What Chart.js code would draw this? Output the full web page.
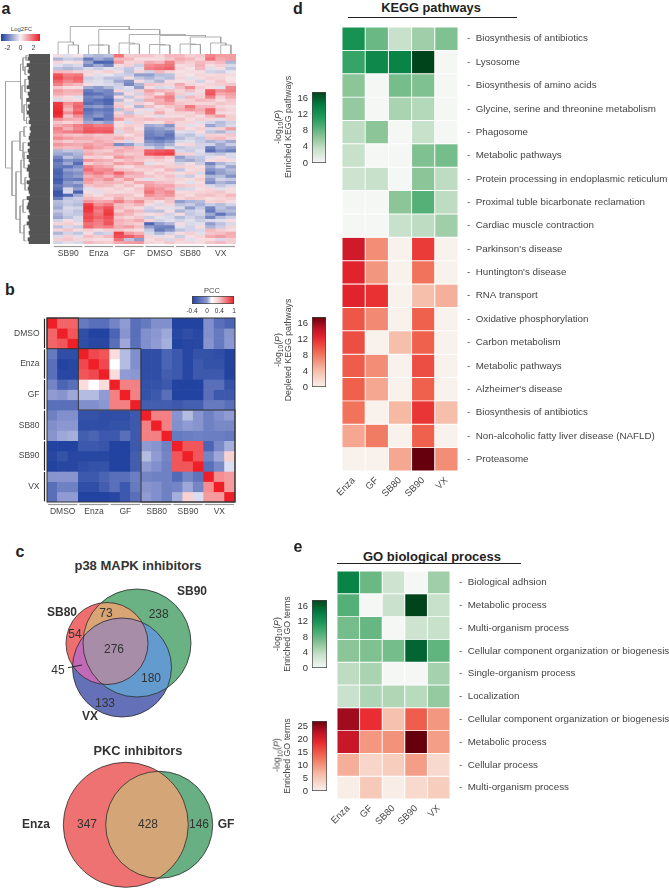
<!DOCTYPE html>
<html>
<head>
<meta charset="utf-8">
<title>Kinase inhibitor expression figure</title>
<script src="https://cdn.jsdelivr.net/npm/chart.js@4"></script>
<style>
  html, body { margin: 0; padding: 0; background: #fff; }
  #fig { position: relative; width: 669px; height: 889px; overflow: hidden; font-family: "Liberation Sans", Arial, sans-serif; color: #333; }
  #fig canvas { position: absolute; }
  .lbl { position: absolute; white-space: nowrap; transform: translate(-50%, -50%); line-height: 1; }
  .rot { transform: translate(-50%, -50%) rotate(-90deg); }
  .rule { position: absolute; background: #222; height: 1px; }
  sub { font-size: 75%; line-height: 0; }
</style>
</head>
<body>
<div id="fig"></div>
<script>
  // sample names
  const groupsA = ["SB90", "Enza", "GF", "DMSO", "SB80", "VX"];
  const groupsB = ["DMSO", "Enza", "GF", "SB80", "SB90", "VX"];
  const samples = ["Enza", "GF", "SB80", "SB90", "VX"];

  // panel a: log2FC, 60 binned rows, three replicates per group
  const log2fc = [
    [.3,-.3,.2,-.8,-1,-.8,1.8,.5,.6,.6,.4,.8,.8,.5,.6,1.5,1.2,1.2],
    [-1,-.6,-.8,-2,-1.2,-1.6,.8,.8,.3,.3,.3,.6,1,.8,.4,1.8,1,1.2],
    [.4,.2,.3,-1.3,-2.4,-2.3,1.2,.4,.5,1,.8,1.6,.7,.5,.8,.6,.8,-1],
    [-.3,-.6,-.4,-1.8,-1.2,-1.8,.3,.5,-.6,1.4,1.6,1.8,.3,.4,.9,.3,.5,-.4],
    [-.8,-1,-.8,-.4,-.6,-.3,-.4,-.7,-.3,1.6,1.8,2,.4,.2,.8,-.3,.3,-.7],
    [.8,.7,.5,.4,.3,.5,.3,-.8,.4,-.5,.8,.4,.2,.3,.3,-.5,-.6,-.2],
    [2.2,1.6,1.7,.3,-.3,-.2,-.5,-.6,-1.4,-1.4,-.9,-.8,.3,.2,.4,.3,.4,.3],
    [2.4,1.8,2,-.6,-.4,-.8,-.8,.3,-.7,-1,-.6,-.9,.4,-.3,.3,.5,.4,.2],
    [2,1.5,1.8,-.4,-.3,-.5,-1.2,-1.6,.3,-.5,-1,.3,.2,.3,-.5,.3,.6,.2],
    [1.6,1,.8,.3,-.3,-.4,-.6,-1.8,-1,.6,.5,.4,1,.4,.3,.4,.5,.6],
    [.6,.3,.3,-1.2,-1.5,-1,-.5,-.3,-1.4,.3,-.4,-.3,.7,1.4,.5,.3,-.3,1.5],
    [1.2,.9,1,-2,-1.6,-1.8,.4,-.4,.5,1.2,.9,.7,.4,.7,.3,2.1,1.4,1.6],
    [1,.8,.8,-2.2,-2.1,-1.8,-1.2,.3,-.5,.8,.3,1.2,.5,-.3,.4,2.2,1,1.2],
    [.5,.3,-.3,-1.8,-1.6,-2,.3,-.7,.4,.6,1.3,1.6,-.5,.8,.5,1.6,.5,1],
    [-.4,.4,.3,-2,-2.2,-2.4,-.9,.3,-.6,1,.9,1.5,.4,.5,.8,.7,.3,.6],
    [2.6,1.4,1.8,-2.2,-2,-2.3,.5,-.4,.5,.3,1,1.1,.6,.5,.4,.4,.6,.5],
    [2.7,1.1,2,-1.6,-1.4,-1.8,.6,.3,-1,.7,.3,.6,.8,1.7,.8,.8,.4,.3],
    [2.8,.8,1.8,-2.2,-2,-2.1,-.8,.6,.3,-.3,.5,.3,1,1.3,1,1.9,.6,.4],
    [2.9,1.4,2.2,-2,-1.7,-1.9,.4,-.7,-.3,.4,1,.4,.5,.4,.8,1.8,.3,.3],
    [2.7,.6,1.4,-1.8,-1.5,-2,.6,.8,.5,.3,-.3,.3,.3,.5,.3,.8,1.2,.5],
    [1.4,1,.9,-1.6,-2.4,-2,1.2,.5,.6,.8,.6,.6,.7,.3,.5,.4,-.3,.5],
    [.6,.4,.6,-1.2,-1,-1.4,.3,-.4,.5,.3,.3,.8,.4,.4,-.3,-.5,-.9,-.5],
    [1,1.2,1.6,1.9,1.6,1.7,.3,.5,.4,-1.2,-1,-1.6,.4,-.3,.3,-1.3,-.8,-.4],
    [1.6,.9,1.5,2.1,2,2,.5,.7,.3,-1.6,-1.4,-1.1,.6,.3,.5,-.4,.5,1.2],
    [1.4,1.6,1.8,2.2,2.1,2.2,-.4,.6,.5,-1.8,-1.6,-1.8,-.3,-.4,.3,-.7,-1,-.5],
    [1,.7,.6,.8,.6,.7,.5,.3,.6,-1.9,-1.7,-2.1,-.6,-.8,-.4,.5,.4,.6],
    [1.5,1.2,1,1,.8,.7,1,.6,.4,-2,-2.2,-2,-.9,-.5,-.7,.6,.8,.4],
    [.8,.5,.7,.7,1,.8,.5,-.4,.4,-1.6,-1.8,-1.5,-.4,-.3,-.6,-1,-.8,-1.2],
    [1.3,1.1,1,1.2,.9,1.1,-1.7,-1.4,-.6,-1.2,-1.4,-1,.3,.4,-.5,-.5,-1.2,-.6],
    [.9,.7,.8,1.4,1.1,.8,.7,1,.6,-.5,-1,-.4,-.7,-.5,-.5,-1.9,-1.2,-1.4],
    [-1,-.7,-.8,.8,.6,.5,1,.8,.7,2,2.1,2.3,-.4,-.6,-.3,-2.2,-1.6,-1.9],
    [-1.2,-1.4,-1,1,.7,.9,.8,.5,.6,2.2,2.4,2.5,.5,.4,-.4,-.6,-.8,-.4],
    [-1.8,-.8,-1.2,.4,.5,.3,1.3,1,.7,.7,.9,.5,-1.4,-.8,-.7,-.3,.3,-.4],
    [-2.2,-1.6,-1.8,1.3,1,.9,.5,.8,.6,.4,.5,.3,-1,-1.2,-.8,.3,.4,.3],
    [-1.9,-1.2,-2.2,.5,.8,.6,1.2,.9,1.1,-.3,.3,.4,-.5,.3,-.6,-1.8,-1,-.6],
    [-2,-2.1,-1.6,1.6,1.2,1,.4,.3,.6,.6,.7,.5,.5,.4,.3,-1.2,-.5,-1.3],
    [-2.3,-1.4,-1.2,1.9,1.4,1.5,.7,.6,.4,.5,.3,.8,-.7,.3,.4,-1.6,-1.3,-.9],
    [-2.4,-1.8,-1.6,1.4,1.7,1.3,2,1.1,.9,.3,.6,.4,.3,.5,-.4,-2,-1.4,-1.1],
    [-2.3,-1.7,-1.4,.9,1.2,.8,1.4,.7,.8,.6,.4,.7,-.4,-.6,.3,-1,-.9,-1.6],
    [-2.5,-1.9,-2,1.3,1,1.4,.6,1.2,.4,-.3,.4,.5,.4,.3,.5,-1.4,-.5,-.7],
    [-2.4,-1.5,-1.2,1.1,.7,.9,.8,.5,1,1,.7,.6,.3,-.3,.3,-1.7,-1,-1.3],
    [-2,-1.6,-1.8,.6,.8,.7,.4,.7,.3,1.2,1,1.1,.6,.5,.4,-.4,-.7,-.4],
    [-2.2,-.5,-1.4,-.3,.4,.3,.5,.3,.6,1.5,1.3,.9,-.5,-.4,.3,.4,-.3,.3],
    [-2.6,-.4,-2.4,.3,-.3,.4,.3,.4,.5,1.8,1.2,1.5,.3,.4,.4,.5,.6,.3],
    [-2.6,-2.3,-1.2,.5,.3,.6,.7,.6,.3,1.4,1.1,1.3,.5,.3,.6,.7,.5,.8],
    [-2,-.8,-.6,.8,.6,.4,1,.5,.7,.8,1,.7,.4,.6,.5,.3,.4,.5],
    [-.9,-.6,-.7,1.3,1,1.1,1.6,1,1.4,.5,.3,.6,-1.4,-1,-.9,.4,.5,.3],
    [-1,-.7,-.9,2.5,1.4,1.7,.7,.6,.9,.3,-.4,.4,-.8,-.6,-1.1,-.6,-.9,-.5],
    [-1.2,-.4,-.5,2.7,1.9,2.3,.8,.5,.3,-.5,.3,-.3,-.4,-1.4,-.7,-1.8,-.8,-1.2],
    [-.7,-.5,-.8,2.6,1.6,2.5,.5,1,.7,-.7,-.8,.3,-1,-.6,-.4,-2,-1,-.9],
    [-1.1,-.6,-.7,2.3,1.8,2.6,1,.8,.4,.3,.4,-.5,.3,-.7,-.5,-1.2,-2.1,-1.3],
    [-1.3,-.8,-.4,2.4,2,2.3,.6,.4,.6,-.6,-.3,-.4,-.9,-.5,-.8,-1.8,-.9,-.6],
    [-.5,.3,-.4,2.2,1.7,2.1,.9,.7,1,.4,-.5,-.3,-.5,-.3,-.6,-.4,-.3,.3],
    [.4,.5,.3,1.8,1.6,2.2,.8,.6,.5,-2.3,-1.4,-1,.3,-.4,-.3,-1.4,-.8,-.4],
    [-.8,-.4,-.6,1.9,1.5,1.6,1,1.2,.7,-1.4,-1.8,-1.9,-.3,-.5,.3,-1,-.6,.4],
    [.4,.6,.3,.5,.3,.5,.6,.4,.3,-.7,-2,-1.6,-.8,-.5,-.4,.8,.5,.3],
    [-1,-.5,-.7,.3,-.7,-.5,2.5,1.2,.9,-.4,-1,-.5,.3,.5,-.3,.6,.7,1],
    [-.4,.5,-.3,.7,.5,.8,2.3,2.1,1.6,.4,-.3,.3,-.6,.3,.4,1,1.2,.9],
    [.5,.6,.4,.4,.3,.3,1.8,-.8,-1.4,.3,.5,-.4,.5,-.3,.3,.3,-.4,.5],
    [-.5,-.3,-.4,.8,.6,.5,1,1.2,1.3,.4,.3,.6,.3,.4,.3,.6,.8,.5]
  ];

  // panel a dendrograms: [a, b, join, heightA, heightB]
  const topTree = [
    [1, 2, 9, 0, 0], [0, 1.5, 12, 0, 9],
    [4, 5, 9, 0, 0], [3, 4.5, 9, 0, 9],
    [7, 8, 10, 0, 0], [6, 7.5, 11, 0, 10],
    [10, 11, 9, 0, 0], [9, 10.5, 9.5, 0, 9],
    [13, 14, 9.5, 0, 0], [12, 13.5, 10, 0, 9.5],
    [16, 17, 9, 0, 0], [15, 16.5, 11, 0, 9],
    [13, 16, 17, 10, 11],
    [10, 14.5, 18.5, 9.5, 17],
    [7, 12.5, 19.5, 11, 18.5],
    [4, 10, 24.5, 9, 19.5],
    [1.2, 7, 27.5, 12, 24.5]
  ];
  const leftTree = [
    [.5, 2, 3, 1, 1], [4, 6.5, 4, 1.5, 2], [1.2, 5.2, 6, 3, 4], [8, 12, 4, 2, 2],
    [14, 18, 2.5, 1, 1], [20, 22, 2.5, 1, 1], [16, 21, 5, 2.5, 2.5], [10, 18.5, 7, 4, 5],
    [3.2, 14.2, 8.5, 6, 7], [23, 26, 5, 2, 3], [28, 33, 6, 3, 3.5], [24.5, 30.5, 9, 5, 6],
    [31, 36, 5, 2, 2.5], [39, 43, 4, 2, 2], [33.5, 41, 8, 5, 4], [46, 50, 6, 3, 3],
    [54, 59, 5, 2.5, 2.5], [48, 56.5, 9, 6, 5], [37.2, 52.2, 13, 8, 9], [27.5, 44.7, 17, 9, 13],
    [8.7, 36, 23.5, 8.5, 17]
  ];
  const leafStart = [5,4,6,3,5,4,6,4,5,5,3,6,4,5,3,6,4,5,3,5,6,5,7,6,7,6,5,6,4,6,
    4,5,3,5,6,4,3,5,5,6,3,5,4,5,6,3,5,4,3,5,6,4,5,3,5,6,5,6,4,5];

  // panel b: pearson correlation, samples in groupsB order
  const pcc = [
    [1,.75,.75,-.15,-.2,-.2,-.1,0,-.2,-.15,-.05,-.05,-.4,-.4,-.4,-.05,-.2,-.25],
    [.75,1,.8,-.35,-.4,-.4,-.25,-.03,-.2,-.05,-.02,.02,-.38,-.35,-.38,-.05,-.15,-.03],
    [.75,.8,1,-.35,-.38,-.38,-.2,.02,-.2,-.05,0,.03,-.4,-.38,-.38,-.03,-.15,-.02],
    [-.15,-.35,-.35,1,.85,.8,.3,.05,-.05,-.35,-.35,-.25,-.3,-.38,-.33,-.33,-.35,-.4],
    [-.2,-.4,-.38,.85,1,.85,.15,.05,-.05,-.35,-.35,-.25,-.3,-.38,-.3,-.33,-.33,-.4],
    [-.2,-.38,-.38,.8,.85,1,.3,0,-.02,-.35,-.35,-.28,-.3,-.38,-.3,-.3,-.3,-.4],
    [-.1,-.25,-.2,.3,.15,.3,1,.65,.65,-.33,-.33,-.3,-.4,-.4,-.4,-.2,-.2,-.33],
    [0,-.03,.02,.05,.05,0,.65,1,.65,-.33,-.3,-.2,-.4,-.4,-.4,-.2,-.3,-.3],
    [-.2,-.2,-.2,-.05,-.05,-.02,.65,.65,1,-.28,-.28,-.28,-.3,-.27,-.27,-.15,-.15,-.2],
    [-.12,-.05,-.05,-.33,-.33,-.35,-.35,-.35,-.3,1,.65,.65,-.03,.05,-.03,-.12,-.05,0],
    [-.05,-.02,-.02,-.35,-.35,-.35,-.33,-.33,-.3,.65,1,.65,-.05,0,-.03,-.12,-.08,-.08],
    [-.03,.02,.03,-.28,-.25,-.3,-.3,-.2,-.3,.65,.65,1,-.15,-.13,-.12,-.13,-.13,-.15],
    [-.4,-.4,-.4,-.3,-.3,-.32,-.4,-.4,-.3,0,-.03,-.12,1,.8,.8,-.25,-.08,.03],
    [-.38,-.33,-.38,-.38,-.38,-.38,-.4,-.4,-.28,.05,0,-.1,.8,1,.8,-.1,.02,.35],
    [-.4,-.38,-.38,-.35,-.33,-.33,-.4,-.4,-.28,0,-.05,-.12,.8,.8,1,-.2,-.08,.1],
    [-.03,-.03,-.03,-.3,-.3,-.25,-.2,-.2,-.13,-.1,-.12,-.12,-.22,-.1,-.18,1,.6,.55],
    [-.2,-.12,-.12,-.35,-.35,-.28,-.2,-.3,-.15,-.03,-.05,-.12,-.1,.02,-.1,.6,1,.55],
    [-.2,0,0,-.4,-.4,-.4,-.38,-.3,-.2,0,-.05,-.12,.03,.35,.1,.55,.55,1]
  ];

  // panel c: set counts
  const p38Counts = ["73", "238", "54", "276", "45", "180", "133"];
  const p38Sets = ["SB80", "SB90", "VX"];
  const p38Cx = [107, 137, 122];
  const p38Cy = [643.5, 643, 667.5];
  const p38R = [41, 54, 49.5];
  const pkcCounts = ["347", "428", "146"];
  const pkcSets = ["Enza", "GF"];
  const pkcCx = [125.8, 159.2];
  const pkcCy = [824.8, 824.8];
  const pkcR = [62.5, 53.5];

  // panel d: -log10(P)
  const keggUp = [
    [12.5, 8, 3.5, 5.5, 7],
    [10.5, 13.5, 14, 18, 0],
    [6.5, 0, 7.5, 7, 0],
    [6, 0, 5, 4.5, 0],
    [4, 6.5, 0, 3.5, 0],
    [3.5, 0, 0, 7, 7.5],
    [3, 3.5, 0, 6.5, 4],
    [0, 0, 6.5, 9, 4],
    [0, 0, 3.5, 4, 5.5]
  ];
  const keggDown = [
    [14, 7, 0, 11.5, 0],
    [13, 6.5, 0, 8.5, 0],
    [13, 12, 0, 4, 5],
    [10, 7.2, 0, 9.5, 0],
    [10.5, 0, 4, 9.5, 0],
    [9.7, 7, 0, 10.5, 0],
    [9.5, 5.5, 0, 9.5, 0],
    [8.5, 0, 4.5, 11.8, 4],
    [5.5, 8, 0, 9.5, 0],
    [0, 0, 5.5, 18, 7]
  ];
  const keggLabels = [
    "Biosynthesis of antibiotics", "Lysosome", "Biosynthesis of amino acids",
    "Glycine, serine and threonine metabolism", "Phagosome", "Metabolic pathways",
    "Protein processing in endoplasmic reticulum", "Proximal tuble bicarbonate reclamation",
    "Cardiac muscle contraction", "Parkinson's disease", "Huntington's disease", "RNA transport",
    "Oxidative phosphorylation", "Carbon metabolism", "Metabolic pathways", "Alzheimer's disease",
    "Biosynthesis of antibiotics", "Non-alcoholic fatty liver disease (NAFLD)", "Proteasome"
  ];

  // panel e: -log10(P)
  const goUp = [
    [14, 8, 3, 0, 5.5],
    [9, 0, 3.3, 18, 3.5],
    [7.5, 8.2, 0, 3, 3.5],
    [6.5, 7, 7.5, 16, 8.5],
    [4, 5, 0, 0, 5.2],
    [3.3, 4.8, 4.7, 4.3, 6]
  ];
  const goDown = [
    [25, 19, 6, 15, 10],
    [22.5, 10, 10.5, 28, 9.5],
    [8, 3.5, 4.5, 9.5, 3],
    [.5, 5, .5, 3, 4.5]
  ];
  const goLabels = [
    "Biological adhsion", "Metabolic process", "Multi-organism process",
    "Cellular component organization or biogenesis", "Single-organism process", "Localization",
    "Cellular component organization or biogenesis", "Metabolic process", "Cellular process",
    "Multi-organism process"
  ];

  // colour ramps
  const greens = [[0, "#f5f7f5"], [.2, "#c6e0c9"], [.35, "#8fc79b"], [.5, "#55b077"], [.65, "#1f9a5a"], [.8, "#067f43"], [1, "#00441b"]];
  const reds = [[0, "#f8f1ec"], [.25, "#f6b9a4"], [.5, "#f06a52"], [.7, "#e8262e"], [.85, "#b81025"], [1, "#67000d"]];
  const fcRamp = [[0, "#1f3f9f"], [.5, "#f6f1f5"], [1, "#ee1c25"]];
  const pccRamp = [[0, "#2243a0"], [.2857, "#8f9bd2"], [.3929, "#ffffff"], [.5714, "#f7c5c5"], [1, "#ee1f26"]];
  const pccBarRamp = [[0, "#2243a0"], [.36, "#8f9bd2"], [.47, "#ffffff"], [.65, "#f7c5c5"], [1, "#ee1f26"]];

  Chart.defaults.font.family = '"Liberation Sans", Arial, sans-serif';
  Chart.defaults.animation = false;
  Chart.defaults.plugins.legend.display = false;
  Chart.defaults.plugins.tooltip.enabled = false;
  Chart.defaults.layout.autoPadding = false;

  const fig = document.getElementById("fig");

  function hex(c) {
    return [1, 3, 5].map(i => parseInt(c.slice(i, i + 2), 16));
  }

  function rampColor(ramp, t) {
    t = Math.max(0, Math.min(1, t));
    for (let i = 1; i < ramp.length; i++) {
      if (t <= ramp[i][0]) {
        const k = (t - ramp[i - 1][0]) / (ramp[i][0] - ramp[i - 1][0]);
        const a = hex(ramp[i - 1][1]);
        const b = hex(ramp[i][1]);
        return "rgb(" + a.map((v, j) => Math.round(v + (b[j] - v) * k)).join(",") + ")";
      }
    }
    return ramp[ramp.length - 1][1];
  }

  function addCanvas(left, top, width, height) {
    const c = document.createElement("canvas");
    c.width = width;
    c.height = height;
    c.style.left = left + "px";
    c.style.top = top + "px";
    c.style.width = width + "px";
    c.style.height = height + "px";
    fig.appendChild(c);
    return c;
  }

  function label(html, x, y, size, extra) {
    const d = document.createElement("div");
    d.className = "lbl" + (extra && extra.rot ? " rot" : "");
    d.innerHTML = html;
    d.style.left = x + "px";
    d.style.top = y + "px";
    d.style.fontSize = size + "px";
    if (extra && extra.bold) d.style.fontWeight = "bold";
    d.style.color = extra && extra.color ? extra.color : "#333";
    fig.appendChild(d);
  }

  function rule(x, y, w) {
    const d = document.createElement("div");
    d.className = "rule";
    d.style.left = x + "px";
    d.style.top = y + "px";
    d.style.width = w + "px";
    fig.appendChild(d);
  }

  // scales ask for margins to fit their first and last labels, not wanted here
  function noMargins(s) {
    s.paddingLeft = s.paddingRight = s.paddingTop = s.paddingBottom = 0;
  }

  // heatmap: stacked one-unit bars, colour from the value
  function heatmap(canvas, o) {
    const nRows = o.rows.length;
    const datasets = o.rows.map((row, i) => ({
      data: row.map(() => 1),
      backgroundColor: row.map(v => o.color(v, i)),
      borderColor: o.gap ? "#ffffff" : undefined,
      borderWidth: o.gap || 0,
      borderSkipped: false
    }));
    const yAxis = {
      stacked: true,
      min: 0,
      max: nRows,
      reverse: true,
      display: !!o.yLabels,
      position: o.yPos || "left",
      grid: { display: false, drawTicks: false },
      border: { display: false }
    };
    if (o.yLabels) {
      yAxis.afterFit = s => { s.width = o.yWidth; noMargins(s); };
      yAxis.afterBuildTicks = s => { s.ticks = o.yTicks.map(v => ({ value: v })); };
      yAxis.ticks = {
        autoSkip: false,
        padding: o.yPad,
        color: "#444",
        font: { size: o.ySize },
        callback: (v, i) => o.yLabels[i]
      };
    }
    return new Chart(canvas, {
      type: "bar",
      data: { labels: o.cols, datasets },
      options: {
        responsive: false,
        barPercentage: 1,
        categoryPercentage: 1,
        layout: { padding: o.padding || 0, autoPadding: false },
        scales: {
          x: {
            stacked: true,
            grid: { display: false, drawTicks: false },
            border: { display: false },
            afterFit: s => { s.height = o.xHeight; noMargins(s); },
            ticks: {
              autoSkip: false,
              maxRotation: o.xRot || 0,
              minRotation: o.xRot || 0,
              padding: o.xPad,
              color: "#444",
              font: { size: o.xSize }
            }
          },
          y: yAxis
        }
      },
      plugins: o.plugins || []
    });
  }

  // colour bar: one floating bar with a gradient
  function colorBar(canvas, o) {
    const vertical = o.vertical;
    const fill = c => {
      const a = c.chart.chartArea;
      if (!a) return "#ccc";
      const g = vertical
        ? c.chart.ctx.createLinearGradient(0, a.bottom, 0, a.top)
        : c.chart.ctx.createLinearGradient(a.left, 0, a.right, 0);
      o.ramp.forEach(s => g.addColorStop(s[0], s[1]));
      return g;
    };
    const valueAxis = {
      min: o.min,
      max: o.max,
      grid: { display: false, drawTicks: true, tickLength: 3 },
      border: { display: false },
      afterBuildTicks: s => { s.ticks = o.tickAt.map(v => ({ value: v })); },
      ticks: {
        autoSkip: false,
        maxRotation: 0,
        padding: o.tickPad,
        color: "#333",
        font: { size: o.size },
        callback: (v, i) => o.tickText[i]
      }
    };
    if (o.title) {
      valueAxis.title = { display: true, text: o.title, color: "#444", font: { size: 8.8 }, padding: 0 };
    }
    if (vertical) valueAxis.afterFit = s => { s.width = o.axisSize; noMargins(s); };
    else valueAxis.afterFit = s => { s.height = o.axisSize; noMargins(s); };
    return new Chart(canvas, {
      type: "bar",
      data: {
        labels: [""],
        datasets: [{
          data: [[o.min, o.max]],
          backgroundColor: fill,
          borderColor: o.frame || "#444",
          borderWidth: o.frameWidth === undefined ? 1 : o.frameWidth,
          borderSkipped: false
        }]
      },
      options: {
        responsive: false,
        indexAxis: vertical ? "x" : "y",
        barPercentage: 1,
        categoryPercentage: 1,
        layout: { padding: o.padding, autoPadding: false },
        scales: vertical
          ? { x: { display: false }, y: valueAxis }
          : { y: { display: false }, x: valueAxis }
      }
    });
  }

  // dendrogram: one broken line through the scales
  function dendrogram(canvas, tree, horizontal, xRange, yRange) {
    const pts = [];
    tree.forEach(([a, b, join, ha, hb]) => {
      const seg = [[a, ha], [a, join], [b, join], [b, hb]];
      seg.forEach(([p, h]) => pts.push(horizontal ? { x: h, y: p } : { x: p, y: h }));
      pts.push({ x: NaN, y: NaN });
    });
    return new Chart(canvas, {
      type: "scatter",
      data: { datasets: [{ data: pts, showLine: true, pointRadius: 0, borderColor: "#9c9c9c", borderWidth: .8, spanGaps: false }] },
      options: {
        responsive: false,
        scales: {
          x: { display: false, min: xRange[0], max: xRange[1], reverse: horizontal },
          y: { display: false, min: yRange[0], max: yRange[1], reverse: horizontal }
        }
      }
    });
  }

  // venn: bubbles for the sets, overlaps filled by clipping to the elements
  function venn(canvas, o) {
    const overlaps = {
      id: "overlaps",
      afterDatasetDraw(chart, args) {
        if (args.index !== 0) return;
        const ctx = chart.ctx;
        const circles = chart.data.datasets.map((d, i) => {
          const el = chart.getDatasetMeta(i).data[0];
          return { x: el.x, y: el.y, r: el.options.radius };
        });
        o.regions.forEach(([members, color]) => {
          ctx.save();
          members.forEach(m => {
            ctx.beginPath();
            ctx.arc(circles[m].x, circles[m].y, circles[m].r, 0, Math.PI * 2);
            ctx.clip();
          });
          ctx.fillStyle = color;
          ctx.fillRect(0, 0, chart.width, chart.height);
          ctx.restore();
        });
        ctx.strokeStyle = "#2b2b2b";
        ctx.lineWidth = .8;
        circles.forEach(c => {
          ctx.beginPath();
          ctx.arc(c.x, c.y, c.r, 0, Math.PI * 2);
          ctx.stroke();
        });
        if (o.leader) {
          const sx = chart.scales.x;
          const sy = chart.scales.y;
          ctx.lineWidth = 1;
          ctx.beginPath();
          ctx.moveTo(sx.getPixelForValue(o.leader[0]), sy.getPixelForValue(o.leader[1]));
          ctx.lineTo(sx.getPixelForValue(o.leader[2]), sy.getPixelForValue(o.leader[3]));
          ctx.stroke();
        }
      }
    };
    return new Chart(canvas, {
      type: "bubble",
      data: {
        datasets: o.sets.map((name, i) => ({
          label: name,
          data: [{ x: o.cx[i], y: o.cy[i], r: o.r[i] }],
          backgroundColor: o.colors[i],
          borderWidth: 0,
          clip: false
        }))
      },
      options: {
        responsive: false,
        layout: { autoPadding: false },
        scales: {
          x: { display: false, min: o.xRange[0], max: o.xRange[1] },
          y: { display: false, min: o.yRange[0], max: o.yRange[1], reverse: true }
        }
      },
      plugins: [overlaps]
    });
  }

  // group bars under the panel a and b heatmaps
  function groupBars(color, leftColor) {
    return {
      id: "groupBars",
      afterDraw(chart) {
        const ctx = chart.ctx;
        const sx = chart.scales.x;
        const sy = chart.scales.y;
        const area = chart.chartArea;
        ctx.save();
        ctx.lineWidth = 1.2;
        ctx.strokeStyle = color;
        for (let g = 0; g < 6; g++) {
          ctx.beginPath();
          ctx.moveTo(sx.getPixelForValue(g * 3 - .5) + 1, area.bottom + 2.5);
          ctx.lineTo(sx.getPixelForValue(g * 3 + 2.5) - 1, area.bottom + 2.5);
          ctx.stroke();
        }
        if (leftColor) {
          ctx.strokeStyle = leftColor;
          for (let g = 0; g < 6; g++) {
            ctx.beginPath();
            ctx.moveTo(area.left - 2.5, sy.getPixelForValue(g * 3) + .7);
            ctx.lineTo(area.left - 2.5, sy.getPixelForValue(g * 3 + 3) - .7);
            ctx.stroke();
          }
        }
        ctx.restore();
      }
    };
  }

  // black boxes around the clusters in panel b
  const clusterBoxes = {
    id: "clusterBoxes",
    afterDraw(chart) {
      const ctx = chart.ctx;
      const sx = chart.scales.x;
      const sy = chart.scales.y;
      ctx.save();
      ctx.strokeStyle = "#333";
      ctx.lineWidth = 1;
      [[0, 18], [0, 3], [3, 9], [9, 18]].forEach(([a, b]) => {
        const x0 = sx.getPixelForValue(a - .5);
        const x1 = sx.getPixelForValue(b - .5);
        const y0 = sy.getPixelForValue(a);
        const y1 = sy.getPixelForValue(b);
        ctx.strokeRect(x0, y0, x1 - x0, y1 - y0);
      });
      ctx.restore();
    }
  };

  function groupTicks(groups) {
    const out = [];
    groups.forEach(g => out.push("", g, ""));
    return out;
  }

  // ---- panel a ----
  label("a", 6, 9, 16, { bold: true, color: "#222" });
  label("Log2FC", 21.5, 29, 6, { color: "#444" });
  colorBar(addCanvas(0, 33, 42, 18), {
    ramp: fcRamp, min: -3, max: 3, tickAt: [-2, 0, 2], tickText: ["-2", "0", "2"],
    size: 6.5, tickPad: 0, axisSize: 10, padding: { left: 1, right: 2, top: 1, bottom: 0 }, frameWidth: 0
  });
  dendrogram(addCanvas(53, 22, 183, 32), topTree, false, [-.5, 17.5], [0, 32]);
  dendrogram(addCanvas(3, 54, 26, 190), leftTree, true, [0, 26], [0, 60]);
  new Chart(addCanvas(24, 54, 26, 190), {
    type: "bar",
    data: {
      labels: log2fc.map((r, i) => i),
      datasets: [{ data: leafStart.map(v => [v, 26]), backgroundColor: "#555555" }]
    },
    options: {
      responsive: false,
      indexAxis: "y",
      barPercentage: 1,
      categoryPercentage: 1,
      scales: { x: { display: false, min: 0, max: 26 }, y: { display: false } }
    }
  });
  heatmap(addCanvas(53, 54, 183, 206), {
    rows: log2fc, cols: groupTicks(groupsA), color: v => rampColor(fcRamp, (v + 3) / 6),
    xHeight: 16, xSize: 8.5, xPad: 5, plugins: [groupBars("#999999")]
  });

  // ---- panel b ----
  label("b", 10, 290, 16, { bold: true, color: "#222" });
  label("PCC", 212, 290.5, 7.5, { color: "#444" });
  colorBar(addCanvas(186, 295, 52, 20), {
    ramp: pccBarRamp, min: 0, max: 1, tickAt: [0, .36, .65, 1], tickText: ["-0.4", "0", "0.4", "1"],
    size: 6.5, tickPad: 0, axisSize: 11, padding: { left: 6, right: 4, top: 1, bottom: 0 }
  });
  heatmap(addCanvas(0, 316, 237, 201), {
    rows: pcc, cols: groupTicks(groupsB), color: v => rampColor(pccRamp, (v + .4) / 1.4),
    xHeight: 15, xSize: 8.5, xPad: 5, yTicks: [1.5, 4.5, 7.5, 10.5, 13.5, 16.5], yLabels: groupsB,
    yWidth: 47, yPad: 7.5, ySize: 8.5, padding: { top: 2, right: 2 },
    plugins: [clusterBoxes, groupBars("#999999", "#222222")]
  });

  // ---- panel c ----
  label("c", 20, 552, 16, { bold: true, color: "#222" });
  label("p38 MAPK inhibitors", 138, 565, 13, { bold: true, color: "#333" });
  venn(addCanvas(0, 580, 270, 145), {
    sets: p38Sets, cx: p38Cx, cy: p38Cy, r: p38R,
    xRange: [0, 270], yRange: [580, 725],
    colors: ["#ef6f6f", "#6ab184", "#6470b8"],
    regions: [
      [[0, 1], "#d9a574"], [[1, 2], "#649bcf"], [[0, 2], "#c06ab8"], [[0, 1, 2], "#a88da8"]
    ],
    leader: [68, 667.7, 82, 665]
  });
  label(p38Sets[0], 62, 612, 12, { bold: true });
  label(p38Sets[1], 192, 591, 12, { bold: true });
  label(p38Sets[2], 90, 716, 12, { bold: true });
  [[106, 612.7], [158.7, 614], [75, 634], [114, 649], [58, 670], [151, 678], [105, 703]].forEach((p, i) => {
    label(p38Counts[i], p[0], p[1], 12, { color: "#333" });
  });

  label("PKC inhibitors", 138, 751, 12.8, { bold: true });
  venn(addCanvas(0, 755, 270, 134), {
    sets: pkcSets, cx: pkcCx, cy: pkcCy, r: pkcR,
    xRange: [0, 270], yRange: [755, 889],
    colors: ["#ef7272", "#68b084"],
    regions: [[[0, 1], "#d4a577"]]
  });
  label(pkcSets[0], 36, 824, 12, { bold: true });
  label(pkcSets[1], 226, 824, 12, { bold: true });
  [[87, 824], [148, 824], [199, 824]].forEach((p, i) => {
    label(pkcCounts[i], p[0], p[1], 12, { color: "#333" });
  });

  // ---- panel d ----
  label("d", 298, 9, 16, { bold: true, color: "#222" });
  label("KEGG pathways", 431, 8, 12.8, { bold: true, color: "#222" });
  rule(348, 17, 169);
  heatmap(addCanvas(322, 27, 347, 484), {
    rows: keggUp.concat(keggDown),
    cols: samples,
    color: (v, i) => i < keggUp.length ? rampColor(greens, v / 18) : rampColor(reds, v / 18),
    gap: .8,
    xHeight: 40, xRot: 45, xSize: 9.5, xPad: 4,
    yTicks: keggLabels.map((l, i) => i + .5),
    yLabels: keggLabels.map(l => "-  " + l),
    yPos: "right", yWidth: 211, yPad: 9, ySize: 9.8,
    padding: { left: 20 }
  });
  colorBar(addCanvas(282, 86, 45, 83), {
    vertical: true, ramp: greens, min: 0, max: 17.6, tickAt: [0, 4, 8, 12, 16], tickText: ["0", "4", "8", "12", "16"],
    size: 9.5, tickPad: 1, axisSize: 30, padding: { top: 6, bottom: 6, right: 1 }
  });
  label("-log<sub>10</sub>(<i>P</i>)", 278, 127, 8.8, { rot: true, color: "#444" });
  label("Enriched KEGG pathways", 288, 127, 8.8, { rot: true, color: "#444" });
  colorBar(addCanvas(282, 311, 45, 82), {
    vertical: true, ramp: reds, min: 0, max: 17.6, tickAt: [0, 4, 8, 12, 16], tickText: ["0", "4", "8", "12", "16"],
    size: 9.5, tickPad: 1, axisSize: 30, padding: { top: 6, bottom: 6, right: 1 }
  });
  label("-log<sub>10</sub>(<i>P</i>)", 278, 350, 8.8, { rot: true, color: "#444" });
  label("Depleted KEGG pathways", 288, 350, 8.8, { rot: true, color: "#444" });

  // ---- panel e ----
  label("e", 298, 547, 16, { bold: true, color: "#222" });
  label("GO biological process", 432, 556, 13, { bold: true, color: "#222" });
  rule(337, 563, 184);
  heatmap(addCanvas(317, 571, 352, 268), {
    rows: goUp.concat(goDown),
    cols: samples,
    color: (v, i) => i < goUp.length ? rampColor(greens, v / 18) : rampColor(reds, v / 28),
    gap: .8,
    xHeight: 40, xRot: 45, xSize: 9.5, xPad: 4,
    yTicks: goLabels.map((l, i) => i + .5),
    yLabels: goLabels.map(l => "-  " + l),
    yPos: "right", yWidth: 219, yPad: 9, ySize: 9.8,
    padding: { left: 20 }
  });
  colorBar(addCanvas(282, 594, 46, 80), {
    vertical: true, ramp: greens, min: 0, max: 17.6, tickAt: [0, 4, 8, 12, 16], tickText: ["0", "4", "8", "12", "16"],
    size: 9.5, tickPad: 1, axisSize: 30, padding: { top: 6, bottom: 6, right: 1 }, title: "Enriched GO terms"
  });
  label("-log<sub>10</sub>(<i>P</i>)", 277, 634, 8.8, { rot: true, color: "#444" });
  colorBar(addCanvas(282, 715, 46, 82), {
    vertical: true, ramp: reds, min: 0, max: 27.2, tickAt: [0, 5, 10, 15, 20, 25], tickText: ["0", "5", "10", "15", "20", "25"],
    size: 9.5, tickPad: 1, axisSize: 30, padding: { top: 6, bottom: 6, right: 1 }, title: "Enriched GO terms"
  });
  label("-log<sub>10</sub>(<i>P</i>)", 277, 755, 8.8, { rot: true, color: "#444" });
</script>
</body>
</html>
